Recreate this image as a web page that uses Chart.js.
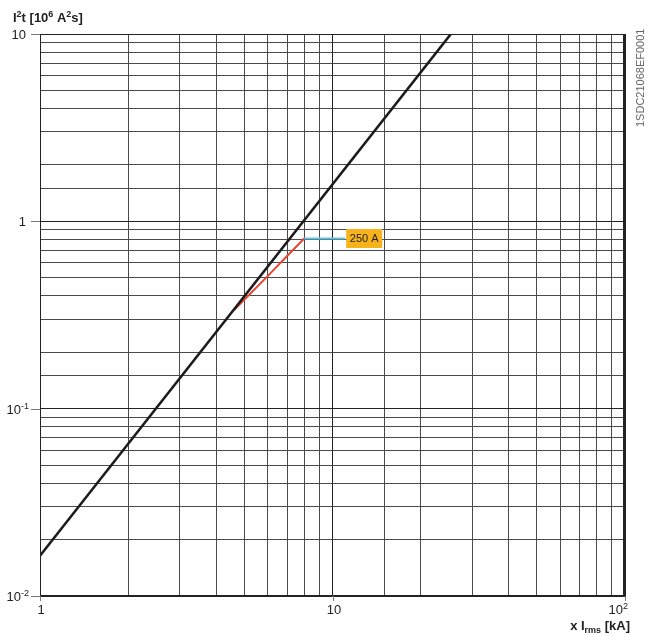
<!DOCTYPE html>
<html>
<head>
<meta charset="utf-8">
<script src="https://cdn.jsdelivr.net/npm/chart.js@4"></script>
<style>
  html, body { margin: 0; padding: 0; background: #fff; }
  #wrap { width: 649px; height: 635px; }
</style>
</head>
<body>
<div id="wrap"><canvas id="i2t_chart" width="649" height="635"></canvas></div>
<script>
// axis ranges and decade labels
const xDecades = [1, 10, 100];
const yDecades = [0.01, 0.1, 1, 10];

// let-through energy line
const lineX = [1, 25.4];
const lineY = [0.0164, 10];

// 250 A curve
const curveX = [4.6, 6.0, 8.0];
const curveY = [0.335, 0.51, 0.81];

// leader to the label
const leaderX = [8.0, 11.05];
const leaderY = [0.81, 0.81];
const leaderLabel = "250 A";

const toPoints = (xs, ys) => xs.map((x, i) => ({ x: x, y: ys[i] }));

const FONT = '"Liberation Sans", Arial, sans-serif';

// draw text made of parts: 0 normal, 1 superscript, -1 subscript
drawParts = (ctx, parts, x, y, size, weight, align) => {
    const small = Math.round(size * 0.72);
    let total = 0;
    parts.forEach(p => {
        ctx.font = weight + " " + (p[1] ? small : size) + "px " + FONT;
        total += ctx.measureText(p[0]).width;
    });
    let cx = align === "right" ? x - total : (align === "center" ? x - total / 2 : x);
    ctx.textAlign = "left";
    ctx.textBaseline = "alphabetic";
    parts.forEach(p => {
        ctx.font = weight + " " + (p[1] ? small : size) + "px " + FONT;
        let dy = p[1] === 1 ? -size * 0.38 : (p[1] === -1 ? size * 0.2 : 0);
        ctx.fillText(p[0], cx, y + dy);
        cx += ctx.measureText(p[0]).width;
    });
};

decadeParts = (v) => {
    if (v === 1) return [["1", 0]];
    if (v === 10) return [["10", 0]];
    const e = Math.round(Math.log10(v));
    return [["10", 0], [String(e), 1]];
};

const labelsPlugin = {
    id: "labels",
    afterDraw(chart) {
        const ctx = chart.ctx;
        const xs = chart.scales.x, ys = chart.scales.y;
        const a = chart.chartArea;
        ctx.save();

        // frame
        ctx.strokeStyle = "#222";
        ctx.lineWidth = 1;
        ctx.strokeRect(a.left + 0.5, a.top + 0.5, a.right - a.left - 1, a.bottom - a.top - 1);
        ctx.lineWidth = 2;
        ctx.beginPath();
        ctx.moveTo(a.right - 1, a.top);
        ctx.lineTo(a.right - 1, a.bottom);
        ctx.stroke();

        // y decade ticks and labels
        ctx.fillStyle = "#222";
        ctx.strokeStyle = "#777";
        ctx.lineWidth = 1;
        yDecades.forEach(v => {
            const py = Math.round(ys.getPixelForValue(v));
            ctx.beginPath();
            ctx.moveTo(a.left - 9, py + 0.5);
            ctx.lineTo(a.left, py + 0.5);
            ctx.stroke();
            const right = (v === 1 || v === 10) ? a.left - 14 : a.left - 11;
            drawParts(ctx, decadeParts(v), right, py + 5, 13, "normal", "right");
        });

        // x decade ticks and labels
        xDecades.forEach(v => {
            const px = Math.round(xs.getPixelForValue(v));
            ctx.beginPath();
            ctx.moveTo(px + 0.5, a.bottom);
            ctx.lineTo(px + 0.5, a.bottom + 5);
            ctx.stroke();
            if (v === 100) {
                drawParts(ctx, [["10", 0], ["2", 1]], a.right + 3, a.bottom + 18, 13, "normal", "right");
            } else {
                drawParts(ctx, decadeParts(v), px + 1, a.bottom + 18, 13, "normal", "center");
            }
        });

        // axis titles
        drawParts(ctx, [["I", 0], ["2", 1], ["t [10", 0], ["6", 1], [" A", 0], ["2", 1], ["s]", 0]],
            13, 22, 13, "bold", "left");
        drawParts(ctx, [["x I", 0], ["rms", -1], [" [kA]", 0]], a.right + 5, a.bottom + 34, 13, "bold", "right");

        // vertical document code
        ctx.save();
        ctx.translate(641, 127);
        ctx.rotate(-Math.PI / 2);
        ctx.font = "11px " + FONT;
        ctx.fillStyle = "#666";
        ctx.textAlign = "left";
        ctx.textBaseline = "middle";
        ctx.fillText("1SDC21068EF0001", 0, 0);
        ctx.restore();

        // label box at end of the leader
        const bx = xs.getPixelForValue(leaderX[leaderX.length - 1]);
        const by = ys.getPixelForValue(leaderY[leaderY.length - 1]);
        ctx.fillStyle = "#f6b31c";
        ctx.fillRect(bx + 1, by - 9.5, 36, 19);
        ctx.fillStyle = "#222";
        ctx.font = "11px " + FONT;
        ctx.textAlign = "center";
        ctx.textBaseline = "middle";
        ctx.fillText(leaderLabel, bx + 19, by + 0.5);

        ctx.restore();
    }
};

gridColor = (c) => {
    const v = c.tick ? c.tick.value : 0;
    const e = Math.log10(v);
    return Math.abs(e - Math.round(e)) < 1e-6 ? "#222" : "#4a4a4a";
};

new Chart("i2t_chart", {
    type: "line",
    data: {
        datasets: [
            {
                data: toPoints(lineX, lineY),
                borderColor: "#1c1c1c",
                borderWidth: 2.6,
                pointRadius: 0,
                tension: 0,
                order: 0
            },
            {
                data: toPoints(curveX, curveY),
                borderColor: "#e8442b",
                borderWidth: 2,
                pointRadius: 0,
                tension: 0,
                order: 1
            },
            {
                data: toPoints(leaderX, leaderY),
                borderColor: "#62c3e1",
                borderWidth: 2,
                pointRadius: 0,
                tension: 0,
                order: 2
            }
        ]
    },
    options: {
        responsive: false,
        animation: false,
        events: [],
        layout: { padding: { left: 40, top: 34, right: 24, bottom: 39 } },
        plugins: {
            legend: { display: false },
            tooltip: { enabled: false }
        },
        scales: {
            x: {
                type: "logarithmic",
                min: 1,
                max: 100,
                border: { display: false },
                grid: { color: gridColor, lineWidth: 1, drawTicks: false },
                ticks: { display: false, autoSkip: false }
            },
            y: {
                type: "logarithmic",
                min: 0.01,
                max: 10,
                border: { display: false },
                grid: { color: gridColor, lineWidth: 1, drawTicks: false },
                ticks: { display: false, autoSkip: false }
            }
        }
    },
    plugins: [labelsPlugin]
});
</script>
</body>
</html>
